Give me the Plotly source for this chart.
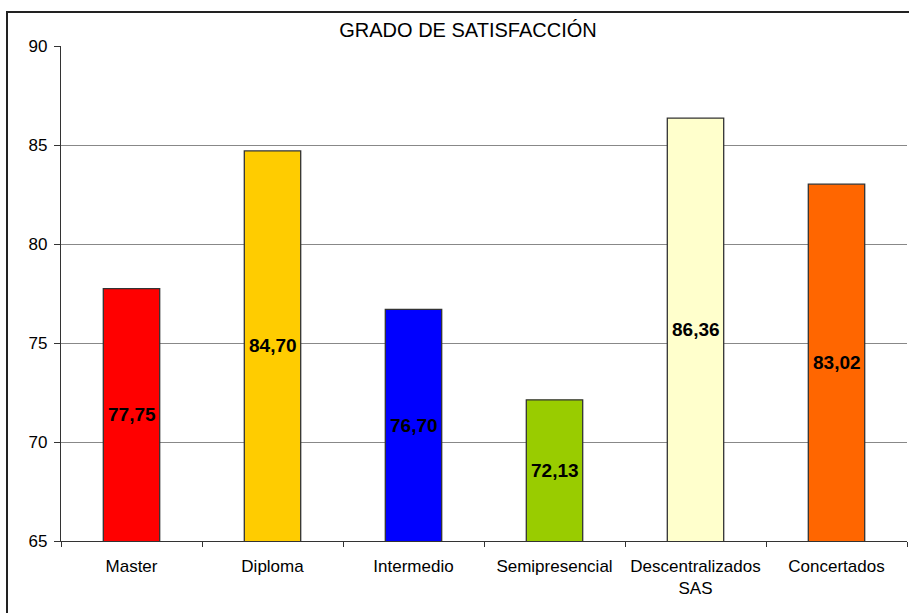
import plotly.graph_objects as go

categories = ["Master", "Diploma", "Intermedio", "Semipresencial", "Descentralizados<br>SAS", "Concertados"]
values = [77.75, 84.70, 76.70, 72.13, 86.36, 83.02]
labels = ["77,75", "84,70", "76,70", "72,13", "86,36", "83,02"]
colors = ["#FF0000", "#FFCC00", "#0000FF", "#99CC00", "#FFFFCC", "#FF6600"]
y_ticks = [65, 70, 75, 80, 85, 90]
y_min, y_max = 65, 90

fig = go.Figure()
fig.add_trace(go.Bar(
    x=categories, y=values,
    marker=dict(color=colors, line=dict(color="#333333", width=1.3)),
    width=0.4,
))

# value labels centred in the visible part of each bar
for cat, v, lab in zip(categories, values, labels):
    fig.add_annotation(x=cat, y=(y_min + v) / 2, text=lab, showarrow=False,
                       font=dict(family="Liberation Sans, Arial", size=19, color="black", weight="bold"),
                       xanchor="center", yanchor="middle")

fig.update_layout(
    width=909, height=613,
    margin=dict(l=61, r=2, t=46, b=72, autoexpand=False),
    paper_bgcolor="white", plot_bgcolor="white",
    font=dict(family="Liberation Sans, Arial", size=16, color="black"),
    title=dict(text="GRADO DE SATISFACCIÓN", x=468/909, xanchor="center", xref="container",
               y=1-30/613, yanchor="middle", yref="container",
               font=dict(size=20, color="black")),
    showlegend=False,
    xaxis=dict(showline=True, linecolor="#333333", linewidth=1.3, automargin=False,
               ticks="outside", ticklen=5, tickcolor="#333333", tickson="boundaries",
               ticklabelstandoff=9,
               tickangle=0, tickfont=dict(size=17), showgrid=False),
    yaxis=dict(range=[y_min, y_max], tickvals=y_ticks, showline=True, linecolor="#333333", linewidth=1.3,
               automargin=False, ticks="outside", ticklen=6, tickcolor="#333333",
               ticklabelstandoff=3,
               showgrid=True, gridcolor="#888888", gridwidth=1.2,
               tickfont=dict(size=17), zeroline=False),
    shapes=[dict(type="rect", xref="paper", yref="paper",
                 x0=(7-61)/846, x1=1.05, y0=-0.2, y1=1+(46-12)/495,
                 line=dict(color="#222222", width=2), layer="below")],
)

fig.write_html("out.html", config={"displayModeBar": False},
               post_script="document.body.style.margin='0px';document.body.style.overflow='hidden';")
